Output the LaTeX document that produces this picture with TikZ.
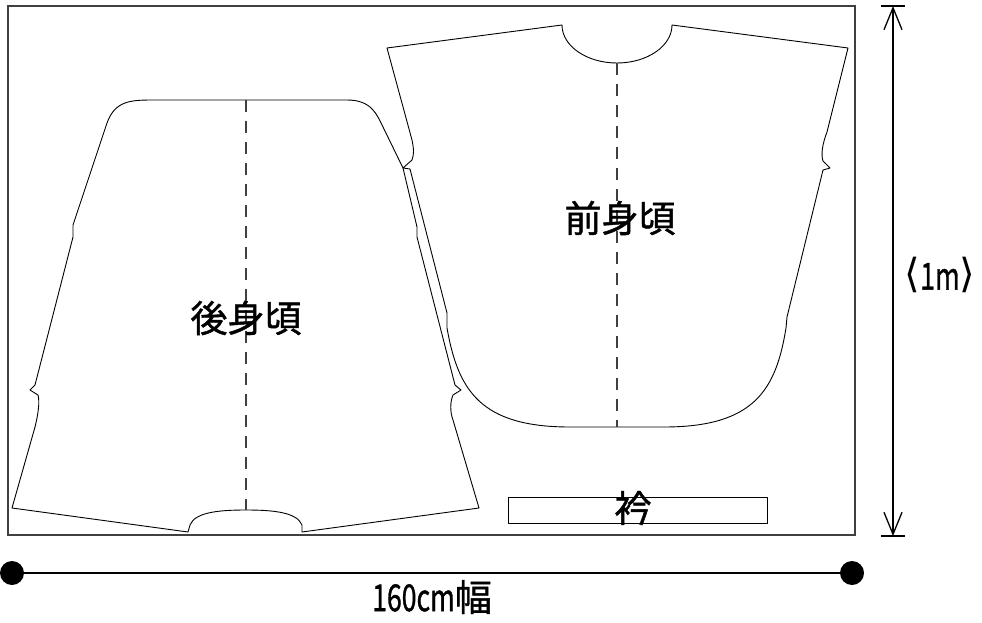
\documentclass[tikz,border=0pt]{standalone}
\usepackage{fontspec}
\setmainfont{Noto Sans CJK JP}
\newfontfamily\lblfont{Noto Sans CJK JP}[FakeBold=1.2]
\newfontfamily\bracketfont{DejaVu Sans}
\usepackage{graphicx}
\usetikzlibrary{arrows.meta}
\tikzset{
	piece/.style={draw=black, line width=0.9pt, line join=round},
	fold/.style={draw=black!75, line width=1.1pt, dash pattern=on 12pt off 9pt},
	cloth/.style={draw=black!75, line width=1.6pt},
	dim/.style={draw=black, line width=1.3pt},
	dimdot/.style={circle, fill=black, inner sep=0pt, minimum size=24pt},
	lbl/.style={inner sep=0.75pt, font=\lblfont\fontsize{37}{40}\selectfont},
}
\newcommand{\halfw}[1]{\scalebox{0.72}[1]{#1}}
\newcommand{\brk}[1]{\raisebox{2pt}{\bracketfont\fontsize{40}{40}\selectfont #1}}
\begin{document}
\begin{tikzpicture}[x=1pt,y=1pt,yscale=-1,xscale=1]
			\useasboundingbox (0,0) rectangle (982,623);
			
			%Shape: Rectangle [cloth]
			\draw[cloth] (8,6) rectangle (855,535);
			
			%Curve Lines [back piece]
			\draw[piece] (153,100) -- (347,100) .. controls (372,100) and (377,115) .. (383,127) -- (403,168) -- (417,227) -- (417,237) -- (455,385) -- (461,390) -- (453,395) .. controls (450,402) and (450,412) .. (453,420) -- (479,508) -- (302,532) -- (302,525) .. controls (297,512) and (272,510) .. (246,510) .. controls (220,510) and (195,512) .. (190,525) -- (188,532) -- (12,508) -- (35,427) .. controls (38,415) and (40,402) .. (38,395) -- (30,390) -- (35,385) -- (73,237) -- (73,225) -- (107,123) .. controls (115,101) and (130,100) .. (153,100) -- cycle ;
			%Straight Lines [back fold]
			\draw[fold] (246,100) -- (246,510) ;
			
			%Curve Lines [front piece]
			\draw[piece] (387,48) -- (562,25) arc[start angle=180, end angle=0, x radius=55, y radius=38] -- (848,48) -- (827,132) .. controls (822,145) and (821,155) .. (823,161) -- (830,168) -- (823,170) -- (787,317) -- (786,328) .. controls (776,390) and (754,427) .. (664,427) -- (570,427) .. controls (480,427) and (458,390) .. (447,328) -- (447,313) -- (410,169) -- (403,168) -- (412,160) .. controls (414,154) and (414,150) .. (412,140) -- cycle ;
			%Straight Lines [front fold]
			\draw[fold] (617,63) -- (617,427) ;
			
			%Shape: Rectangle [collar]
			\draw[piece] (508,497) rectangle (767,523) ;
			
			% Text Node
			\draw (246,318) node (backlbl) [lbl] {後身頃};
			% Text Node
			\draw (620,218) node (frontlbl) [lbl] {前身頃};
			% Text Node
			\draw (633,508) node (collarlbl) [lbl] {衿};
			
			%Width line
			\node[dimdot] (wl) at (12,573) {};
			\node[dimdot] (wr) at (852,573) {};
			\draw[dim] (wl) -- (wr) ;
			% Text Node
			\draw (432,597) node (widthlbl) [lbl] {\halfw{160cm}幅};
			
			%Height line
			\coordinate (hT) at (893,6);
			\coordinate (hB) at (893,536);
			\draw[dim, {Straight Barb[length=22pt,width=18pt]}-{Straight Barb[length=22pt,width=18pt]}] (hT) -- (hB) ;
			\draw[dim] ([xshift=-12pt]hT) -- ([xshift=12pt]hT) ;
			\draw[dim] ([xshift=-12pt]hB) -- ([xshift=12pt]hB) ;
			% Text Node
			\draw (940,275) node (heightlbl) [lbl, inner sep=0pt] {\brk{⟨}\halfw{1m}\brk{⟩}};
			
		\end{tikzpicture}
\end{document}
